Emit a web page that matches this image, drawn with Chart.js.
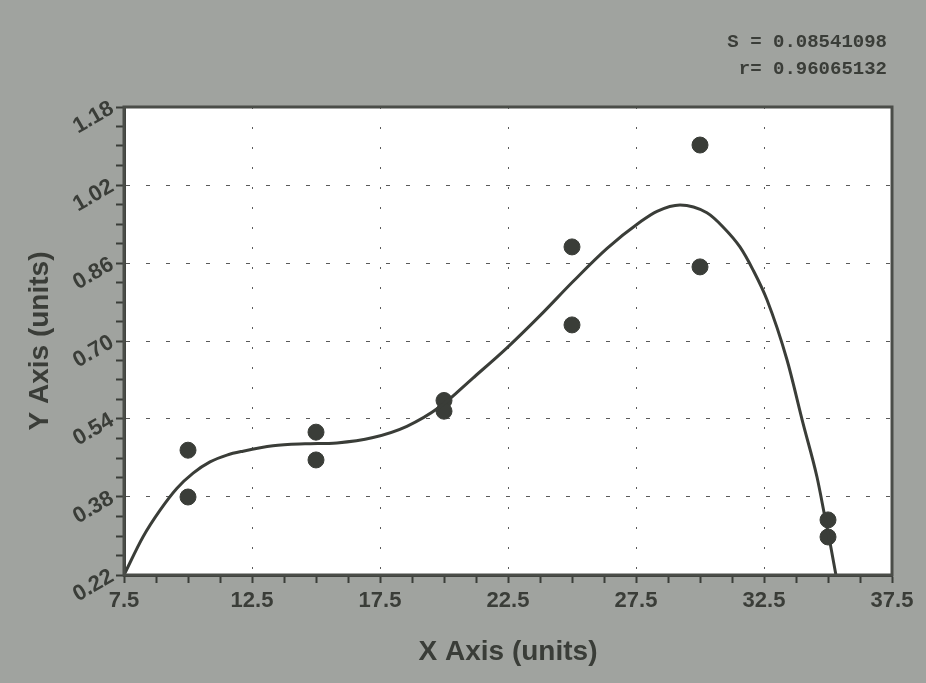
<!DOCTYPE html>
<html>
<head>
<meta charset="utf-8">
<script src="https://cdn.jsdelivr.net/npm/chart.js@4.4.1/dist/chart.umd.min.js"></script>
<style>
  body { margin: 0; background: #a0a39f; }
  #box { width: 926px; height: 683px; }
</style>
</head>
<body>
<div id="box"><canvas id="grafico" width="926" height="683"></canvas></div>
<script>
// measured points (two replicates per x)
var pointsX = [10, 10, 15, 15, 20, 20, 25, 25, 30, 30, 35, 35];
var pointsY = [0.476, 0.380, 0.513, 0.456, 0.578, 0.556, 0.893, 0.733, 1.102, 0.852, 0.333, 0.298];

// fitted curve
var curveX = [7.5, 8.24, 8.91, 9.57, 10.2, 10.86, 11.52, 12.15, 13.32, 14.57, 15.82, 17.23, 18.55, 19.84, 21.13, 22.46, 23.75, 25.04, 26.37, 27.66, 28.32, 29.22, 30.27, 30.9, 31.56, 32.07, 32.62, 33.4, 34.02, 34.57, 34.88, 35.08, 35.31];
var curveY = [0.22, 0.298, 0.353, 0.398, 0.429, 0.452, 0.466, 0.474, 0.485, 0.489, 0.491, 0.502, 0.525, 0.565, 0.624, 0.686, 0.752, 0.822, 0.89, 0.944, 0.966, 0.979, 0.963, 0.934, 0.893, 0.846, 0.784, 0.661, 0.532, 0.421, 0.339, 0.286, 0.22];

var xTicks = [7.5, 12.5, 17.5, 22.5, 27.5, 32.5, 37.5];
var yTicks = [0.22, 0.38, 0.54, 0.70, 0.86, 1.02, 1.18];

var statLines = ["S = 0.08541098", "r= 0.96065132"];

var dark = "#3a3d38";

window.onload = inicializar;

function inicializar() {
  var pts = [], curve = [];
  for (var i = 0; i < pointsX.length; i++) pts.push({ x: pointsX[i], y: pointsY[i] });
  for (var j = 0; j < curveX.length; j++) curve.push({ x: curveX[j], y: curveY[j] });

  generateChart(document.getElementById("grafico"), pts, curve);
}

function isMajor(value, list) {
  for (var i = 0; i < list.length; i++) {
    if (Math.abs(value - list[i]) < 1e-6) return true;
  }
  return false;
}

var framePlugin = {
  id: "frame",
  beforeDraw: function (chart) {
    var ctx = chart.ctx, a = chart.chartArea;
    ctx.save();
    ctx.fillStyle = "#a0a39f";
    ctx.fillRect(0, 0, chart.width, chart.height);
    ctx.fillStyle = "#ffffff";
    ctx.fillRect(a.left, a.top, a.right - a.left, a.bottom - a.top);
    ctx.restore();
  },
  afterDraw: function (chart) {
    var ctx = chart.ctx, a = chart.chartArea;
    ctx.save();
    ctx.strokeStyle = "#4a4d48";
    ctx.lineWidth = 3;
    ctx.strokeRect(a.left, a.top, a.right - a.left, a.bottom - a.top);
    // S and r text, top right
    ctx.fillStyle = dark;
    ctx.font = "bold 19px 'Liberation Mono', 'Courier New', monospace";
    ctx.textAlign = "right";
    ctx.textBaseline = "middle";
    ctx.fillText(statLines[0], 887, 42);
    ctx.fillText(statLines[1], 887, 69);
    ctx.restore();
  }
};

function generateChart(htmldoc, pts, curve) {
  var tickFont = { family: "'Liberation Sans', Arial, sans-serif", size: 22, weight: "bold" };
  var titleFont = { family: "'Liberation Sans', Arial, sans-serif", size: 28, weight: "bold" };

  new Chart(htmldoc, {
    type: "scatter",
    data: {
      datasets: [
        {
          label: "curve",
          data: curve,
          showLine: true,
          borderColor: dark,
          borderWidth: 3,
          pointRadius: 0,
          cubicInterpolationMode: "monotone",
          fill: false
        },
        {
          label: "data",
          data: pts,
          showLine: false,
          pointRadius: 8,
          pointBackgroundColor: dark,
          pointBorderColor: dark
        }
      ]
    },
    options: {
      responsive: false,
      animation: false,
      devicePixelRatio: 1,
      layout: { padding: { top: 107, right: 34, left: 0, bottom: 0 } },
      plugins: { legend: { display: false }, tooltip: { enabled: false } },
      scales: {
        x: {
          type: "linear",
          min: 7.5,
          max: 37.5,
          afterFit: function (s) { s.height = 108; },
          ticks: {
            stepSize: 1.25,
            autoSkip: false,
            maxRotation: 0,
            padding: 5,
            color: dark,
            font: tickFont,
            callback: function (v) { return isMajor(v, xTicks) ? String(v) : ""; }
          },
          grid: {
            tickLength: 8,
            tickWidth: 2,
            tickColor: dark,
            lineWidth: 1,
            color: function (c) { return isMajor(c.tick.value, xTicks) ? "#5a5a5a" : "rgba(0,0,0,0)"; }
          },
          border: { color: dark, width: 3, dash: [2, 18] },
          title: { display: true, text: "X Axis (units)", color: dark, font: titleFont, padding: { top: 0, bottom: 14 } }
        },
        y: {
          type: "linear",
          min: 0.22,
          max: 1.18,
          afterFit: function (s) { s.width = 124; },
          ticks: {
            stepSize: 0.04,
            autoSkip: false,
            minRotation: 30,
            maxRotation: 30,
            padding: 4,
            color: dark,
            font: tickFont,
            callback: function (v) { return isMajor(v, yTicks) ? v.toFixed(2) : ""; }
          },
          grid: {
            tickLength: 8,
            tickWidth: 2,
            tickColor: dark,
            lineWidth: 1,
            color: function (c) { return isMajor(c.tick.value, yTicks) ? "#5a5a5a" : "rgba(0,0,0,0)"; }
          },
          border: { color: dark, width: 3, dash: [4, 16] },
          title: { display: true, text: "Y Axis (units)", color: dark, font: titleFont, padding: { top: 23, bottom: 0 } }
        }
      }
    },
    plugins: [framePlugin]
  });
}
</script>
</body>
</html>
